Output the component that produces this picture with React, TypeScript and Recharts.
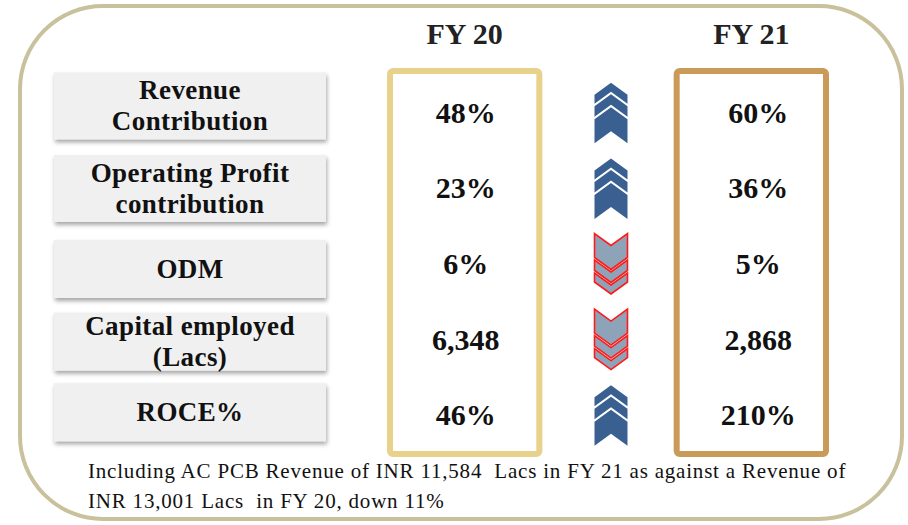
import { ReferenceArea, Scatter, ScatterChart, XAxis, YAxis } from 'recharts';

const metrics = [
  'Revenue\nContribution',
  'Operating Profit\ncontribution',
  'ODM',
  'Capital employed\n(Lacs)',
  'ROCE%',
];
const columns = ['FY 20', 'trend', 'FY 21'];
const fy20Values = ['48%', '23%', '6%', '6,348', '46%'];
const fy21Values = ['60%', '36%', '5%', '2,868', '210%'];
const trend = ['up', 'up', 'down', 'down', 'up'];
const footnote = [
  'Including AC PCB Revenue of INR 11,584  Lacs in FY 21 as against a Revenue of',
  'INR 13,001 Lacs  in FY 20, down 11%',
];

const fy20Points = metrics.map((m, i) => ({ col: columns[0], metric: m, text: fy20Values[i] }));
const trendPoints = metrics.map((m, i) => ({ col: columns[1], metric: m, dir: trend[i] }));
const fy21Points = metrics.map((m, i) => ({ col: columns[2], metric: m, text: fy21Values[i] }));

const SERIF = '"Liberation Serif", "Times New Roman", serif';
const boxColors: Record<string, string> = { 'FY 20': '#e8d18b', 'FY 21': '#c99a58' };
// label boxes are not quite on the row centres in the original slide
const boxNudge = [-7, 0, 5, 2, -3];

function MetricTick({ x, y, payload, index }: any) {
  const lines = String(payload.value).split('\n');
  const h = index < 2 ? 67 : 58;
  const w = 272;
  const left = x - 337;
  const cy = y + boxNudge[index];
  const id = `sh${index}`;
  return (
    <g>
      <defs>
        <filter id={id} x="-10%" y="-20%" width="120%" height="150%">
          <feDropShadow dx="1" dy="3" stdDeviation="2" floodColor="#000" floodOpacity="0.35" />
        </filter>
      </defs>
      <rect x={left} y={cy - h / 2} width={w} height={h} fill="#f0f0f0" filter={`url(#${id})`} />
      <text
        textAnchor="middle"
        fontFamily={SERIF}
        fontWeight="bold"
        fontSize={27}
        letterSpacing={0.4}
        fill="#111"
      >
        {lines.map((l, i) => (
          <tspan key={i} x={left + w / 2} y={cy + 9 + (i - (lines.length - 1) / 2) * 31}>
            {l}
          </tspan>
        ))}
      </text>
    </g>
  );
}

function HeaderTick({ x, payload }: any) {
  if (!String(payload.value).startsWith('FY')) return null;
  return (
    <text x={x} y={44} textAnchor="middle" fontFamily={SERIF} fontWeight="bold" fontSize={30} fill="#222">
      {payload.value}
    </text>
  );
}

function ValueMark({ cx, cy, payload }: any) {
  const dx = payload.col === 'FY 21' ? 7 : 1;
  return (
    <text x={cx + dx} y={cy + 10} textAnchor="middle" fontFamily={SERIF} fontWeight="bold" fontSize={30} fill="#111">
      {payload.text}
    </text>
  );
}

function Chevrons({ cx, cy, payload }: any) {
  const up = payload.dir === 'up';
  const hw = 16.5;
  const drop = 12;
  const total = 60;
  // apex offset and thickness of each chevron, measured from the tip of the set
  const parts = [
    [0, 9],
    [11.5, 10.5],
    [24.5, 24],
  ];
  const polys = parts.map(([a, t]) =>
    [
      [-hw, a + drop],
      [0, a],
      [hw, a + drop],
      [hw, a + drop + t],
      [0, a + t],
      [-hw, a + drop + t],
    ]
      .map(([px, py]) => `${cx + 3 + px},${up ? cy - total / 2 + py : cy + total / 2 - py}`)
      .join(' '),
  );
  return (
    <g>
      {polys.map((p, i) => (
        <polygon
          key={i}
          points={p}
          fill={up ? '#3a6092' : '#8ea3b8'}
          stroke={up ? 'none' : '#ff1a1a'}
          strokeWidth={up ? 0 : 1.6}
          strokeLinejoin="miter"
        />
      ))}
    </g>
  );
}

function ColumnBox({ x, y, width, height, col }: any) {
  return (
    <rect
      x={x - 3}
      y={y - 4}
      width={width + 6}
      height={height + 5}
      rx={3}
      fill="none"
      stroke={boxColors[col]}
      strokeWidth={6}
    />
  );
}

export default function App() {
  return (
    <div style={{ position: 'relative', width: 908, height: 525, background: '#fff', overflow: 'hidden' }}>
      <style>{`body{margin:0}`}</style>
      <div
        style={{
          position: 'absolute',
          left: 18,
          top: 4,
          width: 886,
          height: 517,
          boxSizing: 'border-box',
          border: '4.5px solid #c9c19c',
          borderRadius: 85,
        }}
      />
      <div style={{ position: 'absolute', left: 0, top: 0 }}>
        <ScatterChart width={908} height={525} margin={{ top: 45, right: 85, bottom: 72, left: 0 }}>
          <XAxis
            xAxisId="col"
            type="category"
            dataKey="col"
            orientation="top"
            allowDuplicatedCategory={false}
            axisLine={false}
            tickLine={false}
            height={30}
            tick={(p: any) => <HeaderTick {...p} />}
          />
          <YAxis
            type="category"
            dataKey="metric"
            reversed
            allowDuplicatedCategory={false}
            axisLine={false}
            tickLine={false}
            tickSize={0}
            width={393}
            tick={(p: any) => <MetricTick {...p} />}
          />
          <ReferenceArea
            xAxisId="col"
            x1={columns[0]}
            x2={columns[0]}
            ifOverflow="visible"
            shape={(p: any) => <ColumnBox {...p} col={columns[0]} />}
          />
          <ReferenceArea
            xAxisId="col"
            x1={columns[2]}
            x2={columns[2]}
            ifOverflow="visible"
            shape={(p: any) => <ColumnBox {...p} col={columns[2]} />}
          />
          <Scatter xAxisId="col" data={fy20Points} shape={(p: any) => <ValueMark {...p} />} isAnimationActive={false} />
          <Scatter xAxisId="col" data={trendPoints} shape={(p: any) => <Chevrons {...p} />} isAnimationActive={false} />
          <Scatter xAxisId="col" data={fy21Points} shape={(p: any) => <ValueMark {...p} />} isAnimationActive={false} />
        </ScatterChart>
      </div>
      <div
        style={{
          position: 'absolute',
          left: 88,
          top: 456,
          fontFamily: SERIF,
          fontSize: 21,
          letterSpacing: 0.8,
          lineHeight: '30px',
          color: '#111',
          whiteSpace: 'pre',
        }}
      >
        {footnote.map((l, i) => (
          <div key={i}>{l}</div>
        ))}
      </div>
    </div>
  );
}
